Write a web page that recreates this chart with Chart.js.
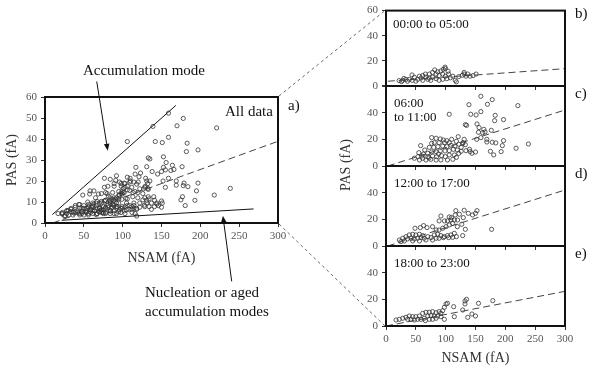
<!DOCTYPE html>
<html><head><meta charset="utf-8">
<script src="https://cdn.jsdelivr.net/npm/chart.js@4/dist/chart.umd.min.js"></script>
<style>
html,body{margin:0;padding:0;background:#fff;}
#wrap{position:relative;width:594px;height:368px;overflow:hidden;font-family:"Liberation Serif","Times New Roman",serif;}
canvas{position:absolute;}
.t{position:absolute;white-space:nowrap;color:#111;line-height:1;transform:translateY(-50%);}
.c{transform:translate(-50%,-50%);}
</style></head><body>
<div id="wrap">
<canvas id="ca" width="300" height="320" style="left:0;top:0"></canvas>
<canvas id="cb" width="254" height="368" style="left:340px;top:0"></canvas>
<canvas id="cc" width="254" height="368" style="left:340px;top:0"></canvas>
<canvas id="cd" width="254" height="368" style="left:340px;top:0"></canvas>
<canvas id="ce" width="254" height="368" style="left:340px;top:0"></canvas>
<canvas id="ov" width="594" height="368" style="left:0;top:0;pointer-events:none"></canvas>

<div class="t c" style="left:144px;top:70px;font-size:15px">Accumulation mode</div>
<div class="t" style="left:145px;top:292px;font-size:15px">Nucleation or aged</div>
<div class="t" style="left:145px;top:311px;font-size:15px">accumulation modes</div>
<div class="t" style="left:225px;top:111px;font-size:15px">All data</div>
<div class="t" style="left:288px;top:105px;font-size:15px">a)</div>
<div class="t" style="left:575px;top:13px;font-size:15px">b)</div>
<div class="t" style="left:575px;top:93px;font-size:15px">c)</div>
<div class="t" style="left:575px;top:173px;font-size:15px">d)</div>
<div class="t" style="left:575px;top:253px;font-size:15px">e)</div>
<div class="t" style="left:393px;top:23px;font-size:13px">00:00 to 05:00</div>
<div class="t" style="left:394px;top:102px;font-size:13px">06:00</div>
<div class="t" style="left:394px;top:116px;font-size:13px">to 11:00</div>
<div class="t" style="left:394px;top:182px;font-size:13px">12:00 to 17:00</div>
<div class="t" style="left:394px;top:262px;font-size:13px">18:00 to 23:00</div>
<div class="t c" style="left:346px;top:165px;font-size:14px;color:#333;transform:translate(-50%,-50%) rotate(-90deg)">PAS (fA)</div>
</div>
<script>
// ---- data: [NSAM (fA), PAS (fA)] ----
const night_0000_0500 = [[99.5,13.8],[104,11.8],[81.6,12.8],[72.6,9.5],[78,10.8],[84,9.5],[89,8.3],[95,9.5],[99.5,7.8],[102,5.8],[105,9.5],[112,7.8],[116,4.5],[122,7.5],[131,9.5],[137,9.5],[141,7.8],[146,8.3],[134,7.8],[67,7],[61.5,8.3],[56,7.8],[53,5.3],[47.5,7],[43.6,8.8],[39,5.3],[33.5,5.3],[28,4.5],[22,4.3],[36,3.8],[61.5,4.5],[70,5.3],[75,4.5],[84,5.8],[89,4.5],[95,5.3],[50,3.8],[86.6,11.3],[92,12],[78,7],[96,13.3],[66,9.5],[58.7,6.3],[72.6,6.3],[99,15],[118,3.3],[131,10.8],[151,9.5],[26,3.5],[30,6],[44,4.5],[108,6.5],[128,8.5]];
const morning_0600_1100 = [[159,52.3],[178,49.8],[170,46.3],[139,46],[221,45.3],[106,38.8],[142,38.8],[151,38.3],[159,40.8],[183,38],[182,34],[197,34.8],[133,31],[135,30.5],[152.5,31.5],[156,28.8],[164,27.5],[176.5,26.8],[155,25.3],[162,25],[166,25.5],[121,22],[152,20],[159,21.3],[169,20],[169,18],[178,17.8],[184,17.3],[197,19],[195,15.3],[175,11],[180.5,8.3],[193,10.8],[218,13.3],[238.6,16.5],[131,20],[129,17.5],[133,16],[150,10.5],[140,12.5],[58,15.3],
[76.5,21.3],[84,20.8],[91,20.3],[102,19],[106,17.5],[98,17.5],[89,17.5],[81,17.5],[76.5,17],[72.6,14],[80,14],[87,14.5],[95,15],[102,14.5],[109,15.5],[115.6,15],[122,16.3],[126,14],[119.5,12],[113,12.5],[106,11.5],[99,11.3],[91,11.3],[84,10.8],[76.5,10.5],[70,9.5],[62.6,9],[55,10],[53.6,7],[47.5,5.8],[61.5,5.8],[67,4.5],[70.4,7],[78,7.5],[85,7],[93,7.8],[99.5,7],[106,8.3],[114.5,8.3],[122,9.5],[134,11.5],[141,10.8],[144,9.5],[92,4.5],[84,4.5],[103,4.5],[112,5],[75,5],[56,4.5],[128.5,17],[65,12],[96,19.5],[110,20],[118,18.5],[88,9],[72,6],[60,7.5],[118,6.5],[126,11]];
const afternoon_1200_1700 = [[117,26.5],[131,26.8],[152.5,26.5],[150,24.5],[129.6,21.3],[109.5,21.3],[92,22.5],[89,18.8],[98,18.8],[103,18.8],[109,19.5],[114.5,19.5],[120,19.5],[111.7,17],[106,15.8],[100.6,14.5],[95,13.3],[89,12],[84,12],[119.6,14.5],[127,16.3],[133,12.5],[177,12.5],[63,15.3],[57.5,13.8],[48.6,13.3],[68.7,13.8],[78,14.5],[116,23.3],[123,23.8],[138,24.5],[145,23.3],[106,21.8],
[22.3,4.5],[28,5.8],[33.5,7],[39,8.3],[44.7,8.8],[50,8.3],[56,8.8],[61.5,7.8],[36,5.3],[42,5.8],[47.5,5.3],[53,5.8],[58.7,6.3],[64,5.8],[70,7],[75.4,6.3],[81,8.3],[86.6,8.8],[92,7.8],[97.8,7],[103,7.8],[109,8.3],[114.5,9.5],[84,5.8],[89,5.8],[96,6.3],[105,6.3],[111.7,6.5],[118,7],[128.5,7.8],[30.7,3.8],[25,3.3],[56,3.8],[67,4.5],[78,4.5],[44.7,3.8]];
const evening_1800_2300 = [[179,19],[155,17],[132.4,18.8],[132.4,16.5],[113.4,14.5],[100.6,16.5],[103,17],[97.8,14],[95,11.5],[92,9.5],[114.5,7],[128.5,12],[137,6.5],[144,9],[150,7.5],[97.8,5],[89,10.8],[84,10],[78,10.8],[72.6,10.3],[67,10.3],[61.5,9.5],[70,7.5],[75.4,7.8],[81,7.5],[86.6,7.5],[56,7.5],[50,7],[44.7,7],[39,7.5],[33.5,6.5],[28,5.8],[22.3,5],[16.8,4.5],[36.3,5],[42,5],[47.5,4.5],[53,5],[58.7,5],[64,5.8],[66,4],[72.6,5],[78,5],[84,5.8],[92,7],[135,20]];
const allData = night_0000_0500.concat(morning_0600_1100, afternoon_1200_1700, evening_1800_2300);

// fitted / guide lines: [NSAM, PAS] end points
const fitAll = [[10,0],[300,38.9]];
const accumulationLine = [[9.5,4],[168.5,56]];
const nucleationLine = [[21.5,1.3],[268.5,6.7]];
const fitNight = [[3,3.8],[300,13.8]];
const fitMorning = [[3,0],[300,42]];
const fitAfternoon = [[3,0],[300,42]];
const fitEvening = [[0,0],[300,26]];
// annotation arrows [tail, head] in panel-a data coordinates
const arrowAccumulation = [[66.6,67.4],[80.8,34.4]];
const arrowNucleation = [[240.4,-27.8],[229,3.5]];

const xTicksStep = 50, yStepAll = 10, yStepPanel = 20;

// ---- helpers ----
const FONT = 'Liberation Serif';
Chart.defaults.font.family = FONT;
Chart.defaults.animation = false;
const xy = arr => arr.map(p => ({x:p[0], y:p[1]}));

const framePlugin = {
  id:'frame',
  afterDatasetsDraw(ch){
    const a = ch.chartArea, ctx = ch.ctx;
    ctx.save(); ctx.strokeStyle = '#111'; ctx.lineWidth = 2;
    ctx.strokeRect(a.left, a.top, a.right - a.left, a.bottom - a.top);
    ctx.restore();
  }
};
const arrowPlugin = {
  id:'arrows',
  afterDraw(ch, args, opts){
    if (!opts.list) return;
    const ctx = ch.ctx, xs = ch.scales.x, ys = ch.scales.y;
    ctx.save(); ctx.strokeStyle = '#111'; ctx.fillStyle = '#111'; ctx.lineWidth = 1;
    opts.list.forEach(ar => {
      const x0 = xs.getPixelForValue(ar[0][0]), y0 = ys.getPixelForValue(ar[0][1]);
      const x1 = xs.getPixelForValue(ar[1][0]), y1 = ys.getPixelForValue(ar[1][1]);
      const ang = Math.atan2(y1 - y0, x1 - x0), L = 7, W = 2.8;
      const bx = x1 - L*Math.cos(ang), by = y1 - L*Math.sin(ang);
      ctx.beginPath(); ctx.moveTo(x0,y0); ctx.lineTo(bx,by); ctx.stroke();
      ctx.beginPath(); ctx.moveTo(x1,y1);
      ctx.lineTo(bx + W*Math.sin(ang), by - W*Math.cos(ang));
      ctx.lineTo(bx - W*Math.sin(ang), by + W*Math.cos(ang));
      ctx.closePath(); ctx.fill();
    });
    ctx.restore();
  }
};

function scatterSet(data){
  return {type:'scatter', data:xy(data), showLine:false, pointRadius:2.1, pointHoverRadius:2.1,
          borderColor:'#333', borderWidth:0.8, backgroundColor:'rgba(255,255,255,0)', order:2};
}
function lineSet(data, color, dash){
  return {type:'line', data:xy(data), showLine:true, pointRadius:0, borderColor:color,
          borderWidth:1, borderDash:dash||[], fill:false, tension:0, order:1};
}

function makeChart(id, datasets, o){
  return new Chart(document.getElementById(id), {
    type:'scatter',
    data:{datasets},
    options:{
      responsive:false, animation:false, events:[],
      layout:{padding:o.padding},
      plugins:{legend:{display:false}, tooltip:{enabled:false}, arrows:{list:o.arrows}},
      scales:{
        x:{type:'linear', min:0, max:300,
           ticks:{stepSize:xTicksStep, display:o.showX, color:'#555', font:{size:11}, padding:3, maxRotation:0},
           grid:{display:true, drawOnChartArea:false, drawTicks:true, tickLength:4, color:'#333'},
           border:{display:false},
           title:{display:o.showX, text:'NSAM (fA)', color:'#333', font:{size:14}, padding:{top:0,bottom:o.xTitlePad}},
           afterFit(s){ s.height = o.xh; }},
        y:{type:'linear', min:0, max:60,
           ticks:{stepSize:o.yStep, color:'#555', font:{size:11}, padding:4,
                  callback:(v)=> (o.hide60 && v===60) ? '' : v},
           grid:{display:true, drawOnChartArea:false, drawTicks:true, tickLength:4, color:'#333'},
           border:{display:false},
           title:{display:o.showYTitle, text:'PAS (fA)', color:'#333', font:{size:14}, padding:{top:4,bottom:4}},
           afterFit(s){ s.width = o.yw; }}
      }
    },
    plugins:[framePlugin, arrowPlugin]
  });
}

const chA = makeChart('ca', [
  scatterSet(allData),
  lineSet(accumulationLine,'#111'),
  lineSet(nucleationLine,'#111'),
  lineSet(fitAll,'#444',[7,4])
], {padding:{left:0,top:97,right:22,bottom:49}, xh:48, yw:45, yStep:yStepAll, showX:true, xTitlePad:4, showYTitle:true, hide60:false,
    arrows:[arrowAccumulation, arrowNucleation]});

const panelTops = {cb:6, cc:86, cd:166, ce:246};
function rightPanel(id, data, fit, last){
  const T = panelTops[id];
  const xh = last ? 42 : 4;
  return makeChart(id, [scatterSet(data), lineSet(fit,'#444',[7,4])],
    {padding:{left:0, top:T, right:29, bottom:368 - (T+80) - xh}, xh, yw:46, yStep:yStepPanel,
     showX:last, xTitlePad:1, showYTitle:false, hide60:(id!=='cb')});
}
const chB = rightPanel('cb', night_0000_0500, fitNight, false);
const chC = rightPanel('cc', morning_0600_1100, fitMorning, false);
const chD = rightPanel('cd', afternoon_1200_1700, fitAfternoon, false);
const chE = rightPanel('ce', evening_1800_2300, fitEvening, true);

// zoom connector lines between panel a and the stacked panels
(function(){
  const ctx = document.getElementById('ov').getContext('2d');
  const a = chA.chartArea, b = chB.chartArea, e = chE.chartArea;
  const off = 340;
  ctx.strokeStyle = '#444'; ctx.lineWidth = 0.8; ctx.setLineDash([3,3]);
  ctx.beginPath(); ctx.moveTo(a.right+1, a.top-1); ctx.lineTo(off + b.left - 1, b.top); ctx.stroke();
  ctx.beginPath(); ctx.moveTo(a.right+1, a.bottom+1); ctx.lineTo(off + e.left - 1, e.bottom); ctx.stroke();
})();
</script>
</body></html>
